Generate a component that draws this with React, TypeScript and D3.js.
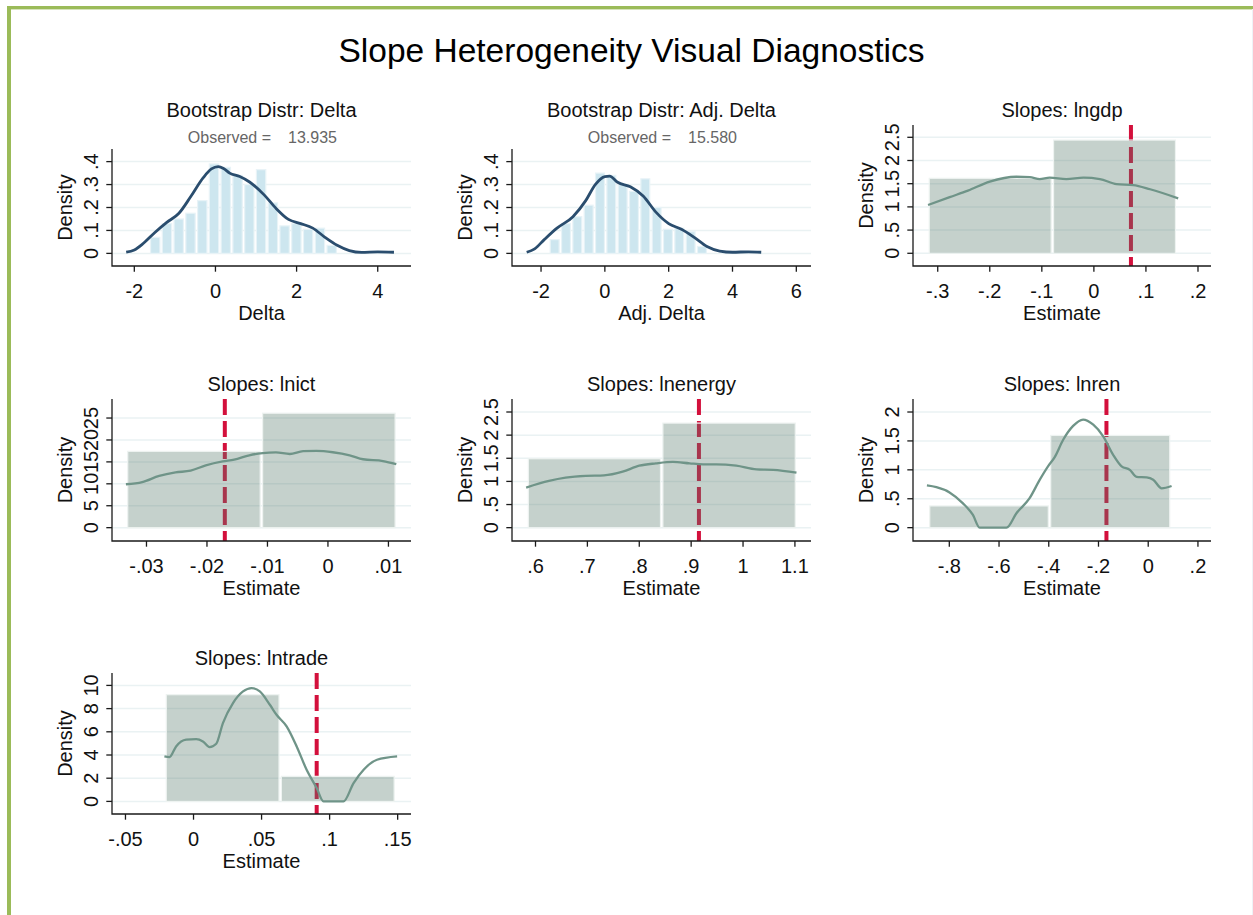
import React from 'react';
import * as d3 from 'd3';

const W = 1253;
const H = 915;
const FONT = "'Liberation Sans', Arial, sans-serif";

// ---- data ----
const deltaObserved = '13.935';
const adjObserved = '15.580';

const deltaEdges = [-1.63, -1.34, -1.05, -0.76, -0.47, -0.18, 0.11, 0.40, 0.69, 0.98, 1.27, 1.56, 1.85, 2.14, 2.43, 2.72, 3.01];
const deltaDens = [0.07, 0.13, 0.15, 0.175, 0.23, 0.39, 0.375, 0.34, 0.30, 0.365, 0.22, 0.12, 0.13, 0.105, 0.11, 0.035];
const deltaKde: [number, number][] = [
  [-2.2, 0.005], [-2.0, 0.015], [-1.8, 0.04], [-1.5, 0.09], [-1.2, 0.135], [-0.9, 0.175],
  [-0.6, 0.25], [-0.3, 0.33], [-0.1, 0.368], [0.07, 0.378], [0.2, 0.37], [0.35, 0.35],
  [0.6, 0.335], [0.85, 0.31], [1.2, 0.255], [1.5, 0.195], [1.8, 0.148], [2.1, 0.13],
  [2.4, 0.11], [2.7, 0.07], [3.0, 0.035], [3.3, 0.012], [3.6, 0.004], [4.0, 0.007], [4.4, 0.005],
];

const adjEdges = [-1.75, -1.395, -1.04, -0.685, -0.33, 0.025, 0.38, 0.735, 1.09, 1.445, 1.8, 2.155, 2.51, 2.865, 3.22];
const adjDens = [0.06, 0.13, 0.16, 0.21, 0.35, 0.34, 0.30, 0.27, 0.325, 0.20, 0.105, 0.11, 0.095, 0.03];
const adjKde: [number, number][] = [
  [-2.45, 0.005], [-2.2, 0.02], [-1.9, 0.06], [-1.5, 0.11], [-1.0, 0.16], [-0.6, 0.23],
  [-0.3, 0.30], [0.0, 0.335], [0.15, 0.337], [0.4, 0.31], [0.8, 0.29], [1.2, 0.25],
  [1.6, 0.18], [2.0, 0.13], [2.4, 0.105], [2.8, 0.07], [3.2, 0.03], [3.6, 0.01],
  [4.0, 0.005], [4.5, 0.007], [4.9, 0.005],
];

const lngdpEdges = [-0.3186, -0.0798, 0.159];
const lngdpDens = [1.616, 2.44];
const lngdpKde: [number, number][] = [
  [-0.3186, 1.04], [-0.277, 1.21], [-0.242, 1.35], [-0.2, 1.545], [-0.149, 1.65], [-0.123, 1.64],
  [-0.104, 1.6], [-0.085, 1.63], [-0.053, 1.6], [-0.02, 1.63], [0.0115, 1.6], [0.0436, 1.49],
  [0.0756, 1.47], [0.108, 1.38], [0.162, 1.185],
];
const lngdpMean = 0.0712;

const lnictEdges = [-0.0333, -0.011, 0.0113];
const lnictDens = [17.4, 26.1];
const lnictKde: [number, number][] = [
  [-0.0334, 9.9], [-0.0307, 10.4], [-0.0279, 11.8], [-0.0252, 12.6], [-0.0227, 13.0],
  [-0.0202, 14.2], [-0.0174, 15.1], [-0.0155, 15.5], [-0.013, 16.5], [-0.0108, 17.0],
  [-0.0086, 17.15], [-0.0063, 16.8], [-0.0041, 17.45], [-0.0019, 17.5], [0.0008, 17.2],
  [0.0036, 16.5], [0.0058, 15.6], [0.0091, 15.2], [0.0113, 14.5],
];
const lnictMean = -0.01705;

const lnenergyEdges = [0.5839, 0.8432, 1.103];
const lnenergyDens = [1.49, 2.26];
const lnenergyKde: [number, number][] = [
  [0.582, 0.867], [0.626, 1.01], [0.658, 1.08], [0.697, 1.12], [0.732, 1.13], [0.768, 1.21],
  [0.8, 1.34], [0.832, 1.39], [0.865, 1.42], [0.897, 1.39], [0.923, 1.37], [0.948, 1.37],
  [0.987, 1.34], [1.026, 1.26], [1.058, 1.25], [1.103, 1.19],
];
const lnenergyMean = 0.915;

const lnrenEdges = [-0.8835, -0.397, 0.0913];
const lnrenDens = [0.376, 1.595];
const lnrenKde: [number, number][] = [
  [-0.89, 0.73], [-0.852, 0.70], [-0.799, 0.61], [-0.745, 0.42], [-0.705, 0.22], [-0.678, 0],
  [-0.57, 0], [-0.53, 0.25], [-0.477, 0.51], [-0.436, 0.83], [-0.403, 1.06], [-0.376, 1.22],
  [-0.342, 1.52], [-0.302, 1.76], [-0.262, 1.87], [-0.221, 1.78], [-0.181, 1.58], [-0.141, 1.26],
  [-0.107, 1.06], [-0.074, 1.0], [-0.047, 0.88], [-0.0067, 0.87], [0.02, 0.83], [0.054, 0.68],
  [0.094, 0.72],
];
const lnrenMean = -0.168;

const lntradeEdges = [-0.0209, 0.0637, 0.1483];
const lntradeDens = [9.2, 2.16];
const lntradeKde: [number, number][] = [
  [-0.0214, 3.88], [-0.0177, 3.82], [-0.0128, 4.74], [-0.0054, 5.32], [0.002, 5.37],
  [0.0069, 5.17], [0.0118, 4.68], [0.0167, 4.97], [0.0216, 6.75], [0.029, 8.48],
  [0.0364, 9.48], [0.0426, 9.77], [0.0487, 9.48], [0.0561, 8.33], [0.061, 7.47],
  [0.0684, 6.47], [0.0758, 4.74], [0.0831, 2.73], [0.0905, 1.15], [0.0955, 0],
  [0.1102, 0], [0.1176, 1.58], [0.125, 2.73], [0.1348, 3.59], [0.1496, 3.88],
];
const lntradeMean = 0.0905;

// ---- layout ----
const colLeft = [112, 512, 913];
const colRight = [411, 811, 1211];
const rowBottom = [266, 541, 814];

type Panel = {
  title: string;
  observed?: string;
  xTitle: string;
  col: number;
  row: number;
  top: number;
  xDomain: [number, number];
  yDomain: [number, number];
  xTicks: number[];
  yTicks: number[];
  edges: number[];
  dens: number[];
  kde: [number, number][];
  xline?: number;
  boot: boolean;
};

const panels: Panel[] = [
  { title: 'Bootstrap Distr: Delta', observed: deltaObserved, xTitle: 'Delta', col: 0, row: 0, top: 149,
    xDomain: [-2.55, 4.82], yDomain: [-0.055, 0.455], xTicks: [-2, 0, 2, 4], yTicks: [0, 0.1, 0.2, 0.3, 0.4],
    edges: deltaEdges, dens: deltaDens, kde: deltaKde, boot: true },
  { title: 'Bootstrap Distr: Adj. Delta', observed: adjObserved, xTitle: 'Adj. Delta', col: 1, row: 0, top: 149,
    xDomain: [-2.91, 6.46], yDomain: [-0.055, 0.455], xTicks: [-2, 0, 2, 4, 6], yTicks: [0, 0.1, 0.2, 0.3, 0.4],
    edges: adjEdges, dens: adjDens, kde: adjKde, boot: true },
  { title: 'Slopes: lngdp', xTitle: 'Estimate', col: 2, row: 0, top: 125,
    xDomain: [-0.3475, 0.225], yDomain: [-0.274, 2.765], xTicks: [-0.3, -0.2, -0.1, 0, 0.1, 0.2], yTicks: [0, 0.5, 1, 1.5, 2, 2.5],
    edges: lngdpEdges, dens: lngdpDens, kde: lngdpKde, xline: lngdpMean, boot: false },
  { title: 'Slopes: lnict', xTitle: 'Estimate', col: 0, row: 1, top: 399,
    xDomain: [-0.0357, 0.01373], yDomain: [-3.04, 29.34], xTicks: [-0.03, -0.02, -0.01, 0, 0.01], yTicks: [0, 5, 10, 15, 20, 25],
    edges: lnictEdges, dens: lnictDens, kde: lnictKde, xline: lnictMean, boot: false },
  { title: 'Slopes: lnenergy', xTitle: 'Estimate', col: 1, row: 1, top: 399,
    xDomain: [0.5547, 1.131], yDomain: [-0.288, 2.781], xTicks: [0.6, 0.7, 0.8, 0.9, 1, 1.1], yTicks: [0, 0.5, 1, 1.5, 2, 2.5],
    edges: lnenergyEdges, dens: lnenergyDens, kde: lnenergyKde, xline: lnenergyMean, boot: false },
  { title: 'Slopes: lnren', xTitle: 'Estimate', col: 2, row: 1, top: 399,
    xDomain: [-0.946, 0.2525], yDomain: [-0.2305, 2.225], xTicks: [-0.8, -0.6, -0.4, -0.2, 0, 0.2], yTicks: [0, 0.5, 1, 1.5, 2],
    edges: lnrenEdges, dens: lnrenDens, kde: lnrenKde, xline: lnrenMean, boot: false },
  { title: 'Slopes: lntrade', xTitle: 'Estimate', col: 0, row: 2, top: 673,
    xDomain: [-0.0599, 0.1598], yDomain: [-1.086, 11.07], xTicks: [-0.05, 0, 0.05, 0.1, 0.15], yTicks: [0, 2, 4, 6, 8, 10],
    edges: lntradeEdges, dens: lntradeDens, kde: lntradeKde, xline: lntradeMean, boot: false },
];

// Stata style labels: -.3, .1, 0
const fmt = (v: number) => String(+v.toFixed(4)).replace(/^(-?)0\./, '$1.');

const PanelChart = ({ p }: { p: Panel }) => {
  const left = colLeft[p.col];
  const right = colRight[p.col];
  const bottom = rowBottom[p.row];
  const x = d3.scaleLinear().domain(p.xDomain).range([left, right]);
  const y = d3.scaleLinear().domain(p.yDomain).range([bottom, p.top]);
  const line = d3.line<[number, number]>()
    .x(d => x(d[0]))
    .y(d => y(d[1]))
    .curve(d3.curveMonotoneX);
  const cx = (left + right) / 2;
  const cy = (p.top + bottom) / 2;
  const bars = p.dens.map((d, i) => ({ x0: p.edges[i], x1: p.edges[i + 1], d }));

  return (
    <g>
      {/* grid */}
      {p.yTicks.map(t => (
        <line key={'g' + t} x1={left} x2={right} y1={y(t)} y2={y(t)} stroke="#EAF2F3" strokeWidth={1.5} />
      ))}
      {p.xline !== undefined && (
        <line x1={x(p.xline)} x2={x(p.xline)} y1={p.top} y2={bottom}
          stroke="#D3103C" strokeWidth={4} strokeDasharray="16,6" />
      )}
      {bars.map((b, i) => (
        <rect key={'b' + i}
          x={x(b.x0) + 1.2} width={x(b.x1) - x(b.x0) - 2.4}
          y={y(b.d)} height={y(0) - y(b.d)}
          fill={p.boot ? '#CDE6EF' : 'rgb(89,124,109)'}
          fillOpacity={p.boot ? 1 : 0.35}
          stroke={p.boot ? '#E8F3F7' : '#EEF3F1'} strokeWidth={1.2} />
      ))}
      <path d={line(p.kde) || ''} fill="none"
        stroke={p.boot ? '#2A4D6E' : '#6F9488'} strokeWidth={p.boot ? 2.8 : 2.3} />
      {/* axes */}
      <path d={`M${left},${p.top}V${bottom}H${right}`} fill="none" stroke="#1a1a1a" strokeWidth={1.3} />
      {p.yTicks.map(t => (
        <g key={'y' + t}>
          <line x1={left - 5.7} x2={left} y1={y(t)} y2={y(t)} stroke="#1a1a1a" strokeWidth={1.3} />
          <text transform={`translate(${left - 14},${y(t)}) rotate(-90)`} textAnchor="middle"
            fontSize={20} fill="#111">{fmt(t)}</text>
        </g>
      ))}
      {p.xTicks.map(t => (
        <g key={'x' + t}>
          <line x1={x(t)} x2={x(t)} y1={bottom} y2={bottom + 5.7} stroke="#1a1a1a" strokeWidth={1.3} />
          <text x={x(t)} y={bottom + 32} textAnchor="middle" fontSize={20} fill="#111">{fmt(t)}</text>
        </g>
      ))}
      <text x={cx} y={bottom + 54} textAnchor="middle" fontSize={20} fill="#111">{p.xTitle}</text>
      <text transform={`translate(${left - 40},${cy}) rotate(-90)`} textAnchor="middle"
        fontSize={20} fill="#111">Density</text>
      <text x={cx} y={p.row === 0 ? 116.7 : p.top - 8} textAnchor="middle" fontSize={20} fill="#111">{p.title}</text>
      {p.observed && (
        <g fontSize={16} fill="#666">
          <text x={cx + 9.5} y={142.7} textAnchor="end">Observed =</text>
          <text x={cx + 26.5} y={142.7}>{p.observed}</text>
        </g>
      )}
    </g>
  );
};

export default function App() {
  return (
    <div style={{ position: 'absolute', left: 0, top: 0 }}>
      <svg width={W} height={H} viewBox={`0 0 ${W} ${H}`} fontFamily={FONT} style={{ display: 'block', background: '#fff' }}>
        <rect x={0} y={0} width={W} height={H} fill="#fff" />
        <rect x={7} y={6} width={W - 7} height={3.4} fill="#9BBB59" />
        <rect x={7} y={6} width={4} height={H - 6} fill="#9BBB59" />
        <line x1={W - 0.5} x2={W - 0.5} y1={9} y2={H} stroke="#EEF2F6" strokeWidth={1} />
        <text x={631.5} y={62} textAnchor="middle" fontSize={33.5} fill="#000">
          Slope Heterogeneity Visual Diagnostics
        </text>
        {panels.map(p => <PanelChart key={p.title} p={p} />)}
      </svg>
    </div>
  );
}
